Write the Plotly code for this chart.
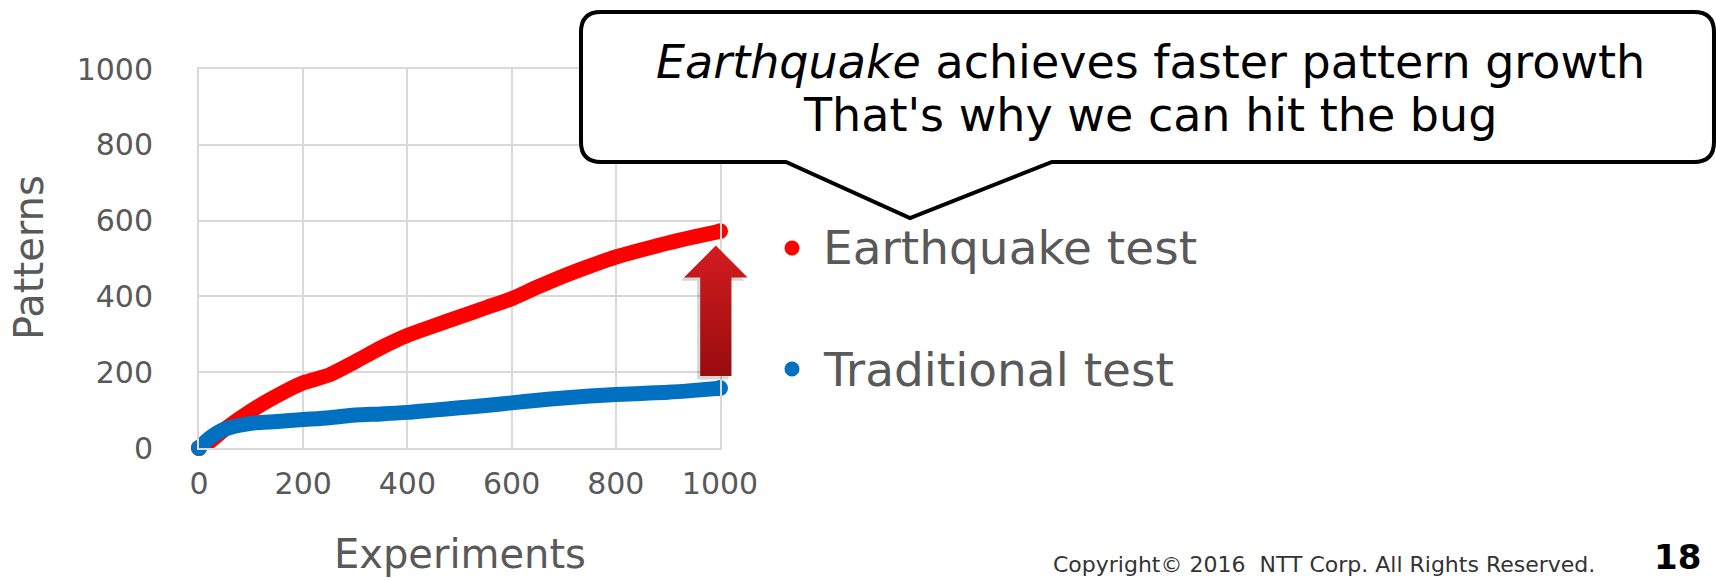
import plotly.graph_objects as go

# ---------------- data ----------------
experiments = [0, 20, 50, 100, 150, 200, 250, 300, 350, 400, 450, 500,
               550, 600, 650, 700, 750, 800, 850, 900, 950, 1000]
earthquake = [0, 16, 50, 98, 138, 172, 193, 228, 265, 297, 322, 346,
              370, 394, 425, 454, 480, 504, 523, 541, 557, 572]
traditional = [0, 26, 50, 65, 70, 75, 80, 87, 90, 94, 100, 106,
               112, 119, 126, 132, 137, 141, 144, 147, 152, 158]
x_ticks = [0, 200, 400, 600, 800, 1000]
y_ticks = [0, 200, 400, 600, 800, 1000]
series_names = ["Earthquake test", "Traditional test"]
callout_lines = ["<i>Earthquake</i> achieves faster pattern growth",
                 "That's why we can hit the bug"]

W, H = 1716, 580
PL, PR, PT, PB = 199, 720, 69, 448          # plot-area box in pixels
XR, YR = [0, 1000], [0, 1000]


def X(px):
    return px / W


def Y(py):
    return 1 - py / H


RED = "#ff0000"
BLUE = "#0070c0"
GRAY = "#595959"
FONT = "DejaVu Sans"

fig = go.Figure()

for name, vals, col in [(series_names[0], earthquake, RED),
                        (series_names[1], traditional, BLUE)]:
    fig.add_trace(go.Scatter(
        x=experiments, y=vals, name=name, mode="lines",
        line=dict(color=col, width=15, shape="spline", smoothing=0.8),
        cliponaxis=False, showlegend=False, hoverinfo="skip"))
    # round ends of the thick stroke
    fig.add_trace(go.Scatter(
        x=[experiments[0], experiments[-1]], y=[vals[0], vals[-1]],
        mode="markers", marker=dict(color=col, size=16, opacity=1,
                                    line=dict(width=0)),
        cliponaxis=False, showlegend=False, hoverinfo="skip"))

# red arrow, positioned from the end values of the two series,
# drawn on a full-figure overlay axis that uses the same data units
kx = (PR - PL) / (XR[1] - XR[0])
ky = (PB - PT) / (YR[1] - YR[0])
x2_range = [XR[0] - PL / kx, XR[0] + (W - PL) / kx]
y2_range = [YR[0] - (H - PB) / ky, YR[0] + PB / ky]

xc = experiments[-1] - 8
tip = earthquake[-1] - 38
bottom = traditional[-1] + 32
head_base = tip - 84
hw, sw = 61, 30
ax = [xc - sw, xc - sw, xc - hw, xc, xc + hw, xc + sw, xc + sw, xc - sw]
ay = [bottom, head_base, head_base, tip, head_base, head_base, bottom, bottom]
fig.add_trace(go.Scatter(
    x=[v - 6 for v in ax], y=[v - 9 for v in ay], mode="lines", fill="toself",
    fillcolor="rgba(0,0,0,0.16)", line=dict(width=0),
    xaxis="x2", yaxis="y2", showlegend=False, hoverinfo="skip"))
fig.add_trace(go.Scatter(
    x=ax, y=ay, mode="lines", fill="toself",
    fillgradient=dict(type="vertical",
                      colorscale=[[0, "#980c0e"], [1, "#d41c20"]]),
    line=dict(width=0), xaxis="x2", yaxis="y2",
    showlegend=False, hoverinfo="skip"))

axis_common = dict(
    showgrid=True, gridcolor="#d9d9d9", gridwidth=2,
    showline=True, linecolor="#d9d9d9", linewidth=2, mirror=True,
    zeroline=False, ticks="outside", tickcolor="rgba(0,0,0,0)",
    tickfont=dict(family=FONT, size=30, color=GRAY),
)
fig.update_layout(
    xaxis=dict(range=XR, tickvals=x_ticks, ticklen=8,
               domain=[PL / W, PR / W], anchor="y", **axis_common),
    yaxis=dict(range=YR, tickvals=y_ticks, ticklen=38,
               domain=[1 - PB / H, 1 - PT / H], anchor="x", **axis_common),
    xaxis2=dict(range=x2_range, domain=[0, 1], anchor="y2", visible=False,
                fixedrange=True),
    yaxis2=dict(range=y2_range, domain=[0, 1], anchor="x2", visible=False,
                fixedrange=True),
)

shapes = []
annotations = []

# axis titles
annotations.append(dict(text="Experiments", xref="paper", yref="paper",
                        x=X(460), y=Y(554), xanchor="center", yanchor="middle",
                        showarrow=False, font=dict(family=FONT, size=40, color=GRAY)))
annotations.append(dict(text="Patterns", xref="paper", yref="paper",
                        x=X(29), y=Y(258), xanchor="center", yanchor="middle",
                        textangle=-90, showarrow=False,
                        font=dict(family=FONT, size=40, color=GRAY)))

# legend
for name, col, cy in [(series_names[0], RED, 248), (series_names[1], BLUE, 369)]:
    r = 7.5
    shapes.append(dict(type="circle", xref="paper", yref="paper",
                       x0=X(792 - r), x1=X(792 + r), y0=Y(cy + r), y1=Y(cy - r),
                       fillcolor=col, line=dict(width=0)))
    annotations.append(dict(text=name, xref="paper", yref="paper",
                            x=X(821), y=Y(cy), xanchor="left", yanchor="middle",
                            showarrow=False,
                            font=dict(family=FONT, size=47, color=GRAY)))

# callout bubble
l, rr, t, b, rad = 581, 1714, 12, 162, 20
tl, tt, trr = 786, 910, 1052
tipy = 218


def P(px, py):
    return f"{X(px):.5f},{Y(py):.5f}"


path = (f"M {P(l + rad, t)} L {P(rr - rad, t)} Q {P(rr, t)} {P(rr, t + rad)} "
        f"L {P(rr, b - rad)} Q {P(rr, b)} {P(rr - rad, b)} "
        f"L {P(trr, b)} L {P(tt, tipy)} L {P(tl, b)} "
        f"L {P(l + rad, b)} Q {P(l, b)} {P(l, b - rad)} "
        f"L {P(l, t + rad)} Q {P(l, t)} {P(l + rad, t)} Z")
shapes.append(dict(type="path", xref="paper", yref="paper", path=path,
                   fillcolor="white", line=dict(color="black", width=4),
                   layer="above"))
for txt, cy in zip(callout_lines, [62, 115]):
    annotations.append(dict(text=txt, xref="paper", yref="paper",
                            x=X(1150), y=Y(cy), xanchor="center", yanchor="middle",
                            showarrow=False,
                            font=dict(family=FONT, size=46, color="black")))

# footer
annotations.append(dict(text="Copyright© 2016  NTT Corp. All Rights Reserved.",
                        xref="paper", yref="paper", x=X(1051), y=Y(579),
                        xanchor="left", yanchor="bottom",
                        showarrow=False,
                        font=dict(family=FONT, size=22, color="#333333")))
annotations.append(dict(text="<b>18</b>", xref="paper", yref="paper",
                        x=X(1652), y=Y(579), xanchor="left", yanchor="bottom",
                        showarrow=False,
                        font=dict(family=FONT, size=34, color="black")))

fig.update_layout(
    width=W, height=H,
    margin=dict(l=0, r=0, t=0, b=0, autoexpand=False),
    paper_bgcolor="white", plot_bgcolor="rgba(0,0,0,0)",
    shapes=shapes, annotations=annotations,
    showlegend=False,
)

fig.write_html("out.html")
